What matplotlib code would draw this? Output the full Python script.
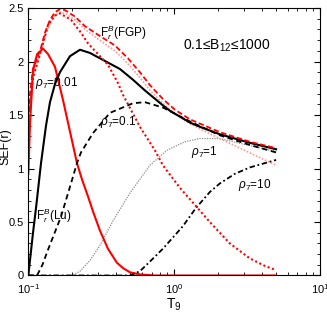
import matplotlib
matplotlib.use("Agg")
import matplotlib.pyplot as plt
from matplotlib.ticker import MultipleLocator, FuncFormatter, LogLocator

plt.rcParams["font.family"] = ["Liberation Sans", "DejaVu Sans"]
plt.rcParams["mathtext.fontset"] = "custom"
plt.rcParams["mathtext.rm"] = "Liberation Sans"
plt.rcParams["mathtext.it"] = "Liberation Sans:italic"
plt.rcParams["mathtext.bf"] = "Liberation Sans:bold"

# -------------------------------------------------------------------
#  Curves (T9, SEF)
# -------------------------------------------------------------------
# red solid
t_red_solid = [0.100, 0.1027, 0.1077, 0.1150, 0.1261, 0.1364, 0.1524, 0.1729, 0.1993,
               0.2156, 0.2331, 0.2564, 0.2774, 0.3098, 0.3516, 0.4046, 0.4452, 0.4973,
               0.5823, 0.7378, 1.0, 2.0, 5.0]
sef_red_solid = [0.95, 1.42, 1.92, 2.07, 2.12, 2.07, 1.95, 1.64, 1.26,
                 1.05, 0.90, 0.74, 0.60, 0.42, 0.25, 0.12, 0.07, 0.03,
                 0.01, 0.0, 0.0, 0.0, 0.0]

# black solid
t_black_solid = [0.100, 0.1077, 0.1129, 0.1222, 0.1322, 0.1408, 0.1524, 0.1648, 0.1931,
                 0.2261, 0.2646, 0.3098, 0.4247, 0.5214, 0.6300, 0.8369, 0.9344, 1.281,
                 1.500, 2.056, 3.301, 5.0]
sef_black_solid = [0.0, 0.40, 0.63, 1.05, 1.40, 1.62, 1.79, 1.90, 2.05,
                   2.11, 2.08, 2.03, 1.93, 1.83, 1.73, 1.59, 1.54, 1.43,
                   1.39, 1.32, 1.24, 1.18]

# red dashed, F_r^B(FGP)
t_red_fgp = [0.100, 0.1027, 0.1077, 0.1222, 0.1301, 0.1408, 0.1524, 0.1648, 0.1784,
             0.2088, 0.2446, 0.3002, 0.3925, 0.4818, 0.5823, 0.6818, 0.8369, 1.011,
             1.281, 2.056, 3.301, 5.0]
sef_red_fgp = [1.45, 1.70, 1.93, 2.13, 2.27, 2.39, 2.46, 2.49, 2.48,
               2.42, 2.33, 2.25, 2.15, 2.03, 1.90, 1.78, 1.65, 1.55,
               1.46, 1.34, 1.25, 1.19]

# light red dotted
t_pink = [0.100, 0.1027, 0.1077, 0.1222, 0.1301, 0.1408, 0.1524, 0.1648, 0.1784,
          0.2088, 0.2446, 0.3002, 0.3925, 0.4818, 0.5823, 0.6818, 0.8369, 1.011,
          1.281, 1.500, 2.056, 3.148, 5.0]
sef_pink = [1.40, 1.65, 1.88, 2.10, 2.24, 2.36, 2.43, 2.46, 2.45,
            2.39, 2.30, 2.21, 2.10, 1.98, 1.85, 1.73, 1.61, 1.51,
            1.42, 1.37, 1.28, 1.16, 1.03]

# red dotted, steep
t_red_steep = [0.100, 0.1077, 0.1222, 0.1364, 0.1524, 0.1648, 0.1961, 0.2296, 0.2564,
               0.3002, 0.3516, 0.4115, 0.4452, 0.5823, 0.7378, 0.8369, 1.094, 1.408,
               1.756, 2.407, 3.301, 4.181, 5.0]
sef_red_steep = [1.40, 1.85, 2.10, 2.34, 2.43, 2.45, 2.39, 2.27, 2.17,
                 2.07, 1.97, 1.80, 1.69, 1.39, 1.17, 1.03, 0.82, 0.65,
                 0.50, 0.30, 0.16, 0.09, 0.05]

# black dashed, rho7 = 0.1
t_rho01 = [0.1000, 0.1147, 0.1250, 0.1364, 0.1675, 0.1961, 0.2156, 0.2296, 0.2774,
           0.3628, 0.5214, 0.6300, 0.8369, 1.281, 2.056, 3.301, 5.0]
sef_rho01 = [0.0, 0.0, 0.10, 0.24, 0.55, 0.86, 1.05, 1.15, 1.33,
             1.52, 1.61, 1.62, 1.57, 1.44, 1.31, 1.22, 1.15]

# grey dotted, rho7 = 1
t_rho1 = [0.1000, 0.1993, 0.2261, 0.2646, 0.3098, 0.3804, 0.4973, 0.6818, 0.8913,
          1.184, 1.500, 2.056, 3.148, 5.0]
sef_rho1 = [0.0, 0.0, 0.04, 0.14, 0.28, 0.51, 0.77, 1.03, 1.17,
            1.25, 1.28, 1.28, 1.22, 1.16]

# black dash-dot, rho7 = 10
t_rho10 = [0.1000, 0.4973, 0.5823, 0.6818, 0.8369, 1.147, 1.408, 1.756, 2.056,
           2.605, 3.301, 4.181, 5.0]
sef_rho10 = [0.0, 0.0, 0.04, 0.13, 0.25, 0.46, 0.63, 0.78, 0.86,
             0.95, 1.01, 1.05, 1.08]

# -------------------------------------------------------------------
#  Plot
# -------------------------------------------------------------------
fig = plt.figure(figsize=(3.27, 3.27), dpi=100)
ax = fig.add_axes([0.0866, 0.1575, 0.892, 0.818])

ax.plot(t_rho1, sef_rho1, color="#8c8c8c", lw=0.9, ls=(0, (1, 1)))
ax.plot(t_pink, sef_pink, color="#ff9a9a", lw=1.2, ls=(0, (1, 1)))
ax.plot(t_red_solid, sef_red_solid, color="red", lw=1.5)
ax.plot(t_black_solid, sef_black_solid, color="black", lw=1.5)
ax.plot(t_rho01, sef_rho01, color="black", lw=1.3, ls=(0, (3, 2)))
ax.plot(t_rho10, sef_rho10, color="black", lw=1.3, ls=(0, (3, 1.5, 1, 1.5)))
ax.plot(t_red_fgp, sef_red_fgp, color="red", lw=1.3, ls=(0, (3, 1.5)))
ax.plot(t_red_steep, sef_red_steep, color="red", lw=1.5, ls=(0, (1, 1.2)))

ax.set_xscale("log")
ax.set_xlim(0.1, 10)
ax.set_ylim(0, 2.5)
ax.yaxis.set_major_locator(MultipleLocator(0.5))
ax.yaxis.set_minor_locator(MultipleLocator(0.1))
ax.yaxis.set_major_formatter(FuncFormatter(lambda v, p: "%g" % v))
ax.xaxis.set_minor_locator(LogLocator(base=10, subs=range(2, 10)))
ax.tick_params(which="both", direction="in", top=True, right=True, labelsize=8)
ax.tick_params(which="major", length=4)
ax.tick_params(which="minor", length=2)
ax.tick_params(axis="x", pad=5)

ax.set_xlabel("T$_9$", fontsize=10, labelpad=0)
ax.set_ylabel("SEF(r)", fontsize=9)
ax.yaxis.set_label_coords(-0.058, 0.48)

ax.text(0.31, 2.23, r"F$_r^B$(FGP)", fontsize=8.5)
ax.text(1.15, 2.11, "0.1\u2264B$_{12}$\u22641000", fontsize=10)
ax.text(0.111, 1.77, r"$\rho_7$=0.01", fontsize=8.5)
ax.text(0.31, 1.41, r"$\rho_7$=0.1", fontsize=8.5)
ax.text(1.30, 1.13, r"$\rho_7$=1", fontsize=8.5)
ax.text(2.73, 0.82, r"$\rho_7$=10", fontsize=8.5)
ax.text(0.113, 0.52, r"F$_r^B$(Lu)", fontsize=8.5)

fig.savefig("out.png", dpi=100)
